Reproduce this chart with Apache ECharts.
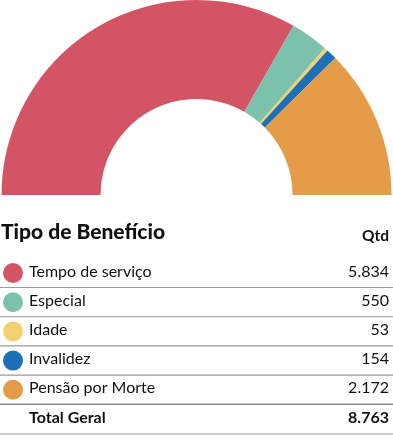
<!DOCTYPE html>
<html><head><meta charset="utf-8">
<script src="https://cdn.jsdelivr.net/npm/echarts@6/dist/echarts.min.js"></script>
<style>html,body{margin:0;padding:0;background:#fff}#c{width:393px;height:445px}</style>
</head><body><div id="c"></div>
<script>
const categories = ["Tempo de serviço","Especial","Idade","Invalidez","Pensão por Morte"];
const values = [5834, 550, 53, 154, 2172];
const colors = ["#D35565","#7BC1AC","#F5D06E","#1E6FB8","#E49C48"];
const tableTitle = "Tipo de Benefício";
const valueHeader = "Qtd";
const totalLabel = "Total Geral";

function fmt(n){ return String(n).replace(/\B(?=(\d{3})+(?!\d))/g, "."); }
const total = values.reduce((a,b)=>a+b,0);
const FONT = "Lato";

const chart = echarts.init(document.getElementById('c'), null, {renderer:'canvas'});
const graphics = [];
graphics.push({type:'text', left:1, top:222, style:{text:tableTitle, font:'900 21px '+FONT, fill:'#111'}});
graphics.push({type:'text', right:4, top:228, style:{text:valueHeader, font:'bold 15.5px '+FONT, fill:'#111'}});
const rowTop = 258, rowH = 29.2;
categories.forEach((c,i)=>{
  const y = rowTop + i*rowH;
  graphics.push({type:'circle', shape:{cx:13, cy:y+15, r:10}, style:{fill:colors[i]}});
  graphics.push({type:'text', left:29, top:y+5.5, style:{text:c, font:'16px '+FONT, fill:'#111'}});
  graphics.push({type:'text', right:4, top:y+5.5, style:{text:fmt(values[i]), font:'16px '+FONT, fill:'#111', align:'right'}});
  graphics.push({type:'line', shape:{x1:0, y1:y+29.5, x2:393, y2:y+29.5}, style:{stroke: i===categories.length-1 ? '#888' : '#9a9a9a', lineWidth: i===categories.length-1 ? 1.6 : 1.1}});
});
const ty = rowTop + categories.length*rowH;
graphics.push({type:'text', left:29, top:ty+5.5, style:{text:totalLabel, font:'bold 16px '+FONT, fill:'#111'}});
graphics.push({type:'text', right:4, top:ty+5.5, style:{text:fmt(total), font:'bold 16px '+FONT, fill:'#111'}});
graphics.push({type:'line', shape:{x1:0, y1:ty+30, x2:393, y2:ty+30}, style:{stroke:'#9a9a9a', lineWidth:1.1}});

chart.setOption({
  animation:false,
  graphic: graphics,
  series:[{
    type:'pie',
    center:[196.5,195],
    radius:[96,195],
    startAngle:180,
    endAngle:0,
    clockwise:true,
    label:{show:false},
    labelLine:{show:false},
    itemStyle:{borderWidth:0},
    emphasis:{disabled:true},
    data: categories.map((c,i)=>({name:c, value:values[i], itemStyle:{color:colors[i]}}))
  }]
});
</script></body></html>
